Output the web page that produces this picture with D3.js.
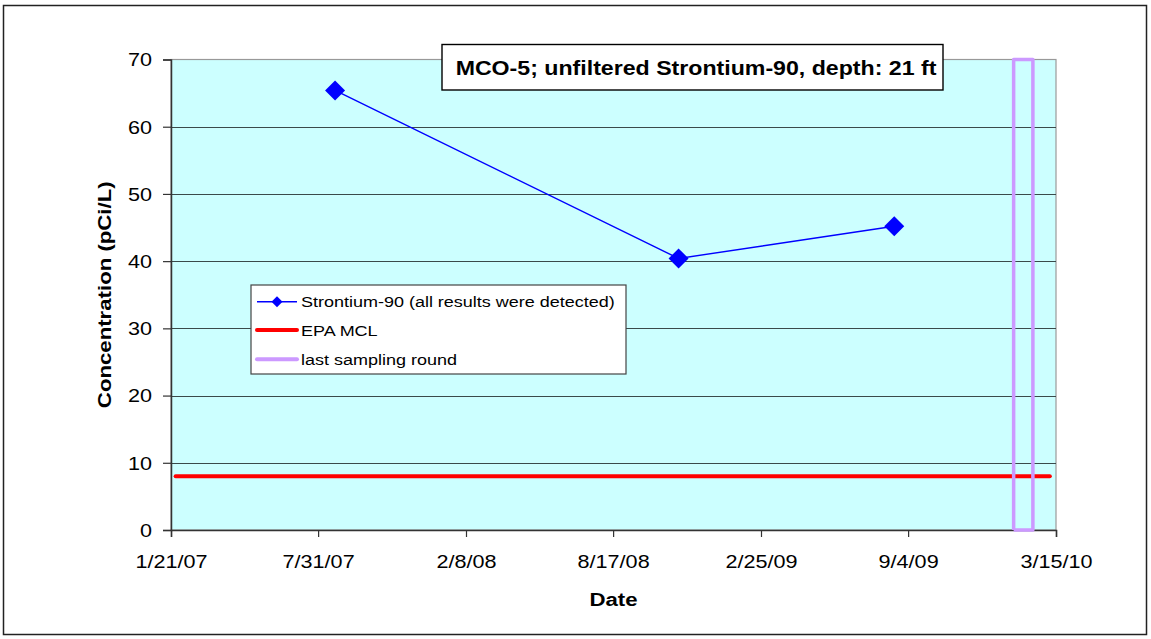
<!DOCTYPE html>
<html>
<head>
<meta charset="utf-8">
<script src="https://cdn.jsdelivr.net/npm/d3@7"></script>
<style>
  body { margin: 0; background: #fff; }
  svg { display: block; font-family: Arial, "Liberation Sans", sans-serif; }
</style>
</head>
<body>
<div id="chart"></div>
<script>
// sample dates and Sr-90 results (pCi/L)
const sampleDates = ['2007-08-22', '2008-11-10', '2009-08-17'];
const srValues = [65.4, 40.4, 45.2];

// EPA MCL reference line
const mclDates = ['2007-01-27', '2010-03-07'];
const mclValues = [8, 8];

// last sampling round box
const lastRoundDates = ['2010-01-19', '2010-02-13'];
const lastRoundValues = [0, 70];

const xTickLabels = ['1/21/07', '7/31/07', '2/8/08', '8/17/08', '2/25/09', '9/4/09', '3/15/10'];
const yTicks = [0, 10, 20, 30, 40, 50, 60, 70];

const legendLabels = ['Strontium-90 (all results were detected)', 'EPA MCL', 'last sampling round'];
const titleText = 'MCO-5; unfiltered Strontium-90, depth: 21 ft';

const W = 1151, H = 639;
const plot = { left: 171, right: 1056, top: 59.5, bottom: 530 };
const sx = 1.2; // text in the source is drawn a bit wider than Arial

const parseIso = d3.timeParse('%Y-%m-%d');
const parseTick = d3.timeParse('%m/%d/%y');
const tickDates = xTickLabels.map(parseTick);

const x = d3.scaleTime()
  .domain([tickDates[0], tickDates[tickDates.length - 1]])
  .range([plot.left, plot.right]);

const y = d3.scaleLinear()
  .domain([0, 70])
  .range([plot.bottom, plot.top]);

const svg = d3.select('#chart')
  .append('svg')
  .attr('width', W)
  .attr('height', H);

// outer chart frame
svg.append('rect')
  .attr('x', 3.5).attr('y', 5.5)
  .attr('width', 1143).attr('height', 629)
  .attr('fill', '#fff')
  .attr('stroke', '#222')
  .attr('stroke-width', 1.5);

// plot background
svg.append('rect')
  .attr('x', plot.left).attr('y', plot.top)
  .attr('width', plot.right - plot.left)
  .attr('height', plot.bottom - plot.top)
  .attr('fill', '#ccffff')
  .attr('stroke', '#999')
  .attr('stroke-width', 1.2);

// gridlines
svg.append('g')
  .selectAll('line')
  .data(yTicks.filter(v => v > 0 && v < 70))
  .join('line')
  .attr('x1', plot.left).attr('x2', plot.right)
  .attr('y1', d => Math.round(y(d)) + 0.5)
  .attr('y2', d => Math.round(y(d)) + 0.5)
  .attr('stroke', '#3a4a4a')
  .attr('stroke-width', 1.2);

// y axis
const yAxis = svg.append('g')
  .attr('transform', `translate(${plot.left},0)`)
  .call(d3.axisLeft(y).tickValues(yTicks).tickSize(8).tickFormat(d3.format('d')));
yAxis.select('.domain').attr('stroke', '#333').attr('stroke-width', 1.5);
yAxis.selectAll('.tick line').attr('stroke', '#333').attr('stroke-width', 1.2);
yAxis.selectAll('.tick text')
  .attr('x', 0)
  .attr('dy', '0.35em')
  .attr('transform', `translate(-19,0) scale(${sx},1)`)
  .attr('font-size', 18)
  .attr('fill', '#000');

// x axis
const xAxis = svg.append('g')
  .attr('transform', `translate(0,${plot.bottom})`)
  .call(d3.axisBottom(x).tickValues(tickDates).tickSize(7).tickFormat(d3.timeFormat('%-m/%-d/%y')));
xAxis.select('.domain').attr('stroke', '#333').attr('stroke-width', 1.5);
xAxis.selectAll('.tick line').attr('stroke', '#333').attr('stroke-width', 1.2);
xAxis.selectAll('.tick text')
  .attr('y', 38)
  .attr('dy', 0)
  .attr('transform', `scale(${sx},1)`)
  .attr('font-size', 18)
  .attr('fill', '#000');
svg.selectAll('.tick text').attr('font-family', 'Arial, "Liberation Sans", sans-serif');

// axis titles
svg.append('text')
  .attr('transform', `translate(${(plot.left + plot.right) / 2},606) scale(${sx},1)`)
  .attr('text-anchor', 'middle')
  .attr('font-size', 18.5)
  .attr('font-weight', 'bold')
  .text('Date');

svg.append('text')
  .attr('transform', `translate(111,${(plot.top + plot.bottom) / 2}) rotate(-90) scale(${sx},1)`)
  .attr('text-anchor', 'middle')
  .attr('font-size', 18.5)
  .attr('font-weight', 'bold')
  .text('Concentration (pCi/L)');

// EPA MCL line
const mclData = mclDates.map((d, i) => ({ date: parseIso(d), v: mclValues[i] }));
svg.append('path')
  .datum(mclData)
  .attr('fill', 'none')
  .attr('stroke', '#ff0000')
  .attr('stroke-width', 4)
  .attr('stroke-linecap', 'round')
  .attr('d', d3.line().x(d => x(d.date)).y(d => y(d.v)));

// last sampling round box
const lr0 = parseIso(lastRoundDates[0]), lr1 = parseIso(lastRoundDates[1]);
const boxPts = [
  [lr0, lastRoundValues[0]], [lr0, lastRoundValues[1]],
  [lr1, lastRoundValues[1]], [lr1, lastRoundValues[0]], [lr0, lastRoundValues[0]]
];
svg.append('path')
  .datum(boxPts)
  .attr('fill', 'none')
  .attr('stroke', '#cc99ff')
  .attr('stroke-width', 3.5)
  .attr('stroke-linejoin', 'round')
  .attr('d', d3.line().x(d => x(d[0])).y(d => y(d[1])));

// Sr-90 series
const srData = sampleDates.map((d, i) => ({ date: parseIso(d), v: srValues[i] }));
svg.append('path')
  .datum(srData)
  .attr('fill', 'none')
  .attr('stroke', '#0000ff')
  .attr('stroke-width', 1.4)
  .attr('d', d3.line().x(d => x(d.date)).y(d => y(d.v)));

const diamond = d3.symbol(d3.symbolSquare, 200);
svg.append('g')
  .selectAll('path')
  .data(srData)
  .join('path')
  .attr('transform', d => `translate(${x(d.date)},${y(d.v)}) rotate(45)`)
  .attr('fill', '#0000ff')
  .attr('d', diamond);

// title box
svg.append('rect')
  .attr('x', 442).attr('y', 44.5)
  .attr('width', 501).attr('height', 45.5)
  .attr('fill', '#fff')
  .attr('stroke', '#000')
  .attr('stroke-width', 1.4);
svg.append('text')
  .attr('transform', `translate(696,75) scale(${sx},1)`)
  .attr('text-anchor', 'middle')
  .attr('font-size', 19.3)
  .attr('font-weight', 'bold')
  .text(titleText);

// legend
const legend = svg.append('g');
legend.append('rect')
  .attr('x', 251).attr('y', 285)
  .attr('width', 375).attr('height', 89)
  .attr('fill', '#fff')
  .attr('stroke', '#444')
  .attr('stroke-width', 1.2);

const rowY = [301.7, 330, 359.3];
const legendStyles = [
  { color: '#0000ff', width: 1.4, marker: true },
  { color: '#ff0000', width: 4, marker: false },
  { color: '#cc99ff', width: 4, marker: false }
];
legendLabels.forEach((label, i) => {
  const st = legendStyles[i];
  legend.append('line')
    .attr('x1', 257).attr('x2', 297)
    .attr('y1', rowY[i]).attr('y2', rowY[i])
    .attr('stroke', st.color)
    .attr('stroke-width', st.width)
    .attr('stroke-linecap', st.marker ? 'butt' : 'round');
  if (st.marker) {
    legend.append('path')
      .attr('transform', `translate(277,${rowY[i]}) rotate(45)`)
      .attr('fill', st.color)
      .attr('d', d3.symbol(d3.symbolSquare, 60));
  }
  legend.append('text')
    .attr('transform', `translate(301,${rowY[i] + 5.5}) scale(${sx},1)`)
    .attr('font-size', 15)
    .text(label);
});
</script>
</body>
</html>
